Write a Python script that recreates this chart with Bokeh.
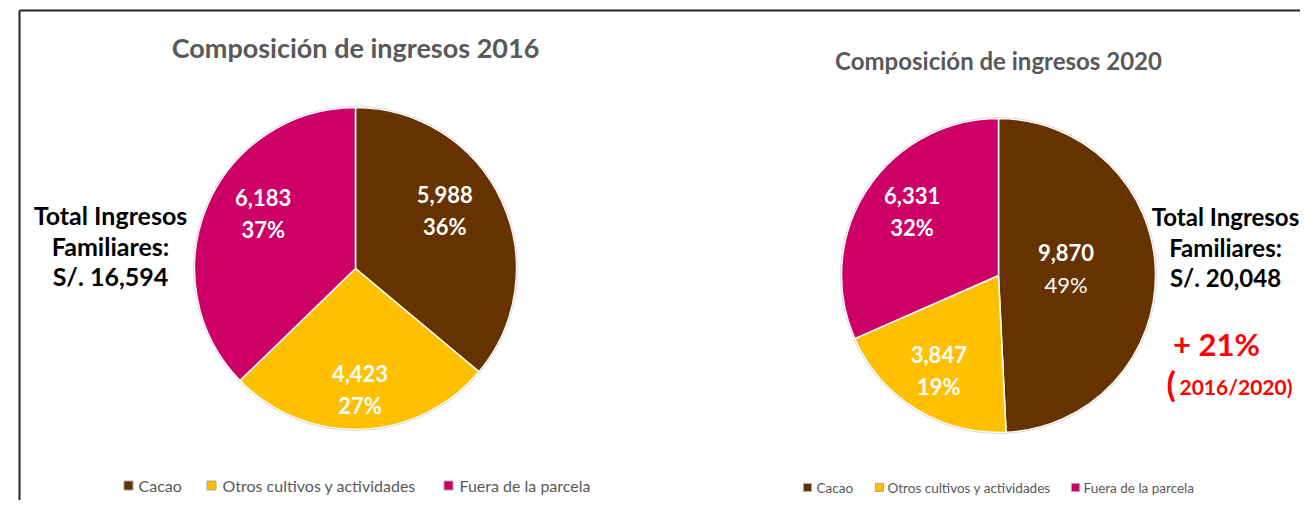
import math
from bokeh.plotting import figure
from bokeh.models import Range1d, ColumnDataSource
from bokeh.core.properties import value
from bokeh.embed import file_html
from bokeh.resources import INLINE

# ---------------- data ----------------
categories = ["Cacao", "Otros cultivos y actividades", "Fuera de la parcela"]
values_2016 = [5988, 4423, 6183]
values_2020 = [9870, 3847, 6331]
years = ["2016", "2020"]
colors = ["#663300", "#FFC000", "#CC0066"]

FONT = "Lato"
GRAY = "#595959"

p = figure(width=1300, height=500, output_backend="svg", toolbar_location=None,
           x_range=Range1d(0, 1300), y_range=Range1d(16, 516), min_border=0)
p.axis.visible = False
p.grid.visible = False
p.outline_line_color = None
p.background_fill_color = "white"

def Y(img_y):
    return 516 - img_y

# frame lines (top and left)
p.segment(x0=[19, 19], y0=[Y(10), Y(10)], x1=[1316, 19], y1=[Y(10), Y(516)],
          line_color="#222222", line_width=2)


def draw_pie(vals, cx, cy, r, label_frac, label_nudge, bold_pct, title, title_y, title_size):
    total = sum(vals)
    fr = [v / total for v in vals]
    cum = [0]
    for f in fr:
        cum.append(cum[-1] + f)
    starts = [math.pi / 2 - 2 * math.pi * c for c in cum[:-1]]
    ends = [math.pi / 2 - 2 * math.pi * c for c in cum[1:]]
    src = ColumnDataSource(dict(x=[cx] * 3, y=[cy] * 3, s=starts, e=ends, c=colors))
    p.wedge(x="x", y="y", radius=r, radius_units="screen", start_angle="s", end_angle="e",
            direction="clock", fill_color="c", line_color="white", line_width=1.5, source=src)
    p.circle(x=[cx], y=[cy], radius=r + 1, radius_units="screen", fill_color=None,
             line_color="#D9D9D9", line_width=1)
    for i, v in enumerate(vals):
        mid = 2 * math.pi * (cum[i] + cum[i + 1]) / 2
        d = r * label_frac[i]
        lx = cx + d * math.sin(mid) + label_nudge[i][0]
        ly = cy + d * math.cos(mid) + label_nudge[i][1]
        pct = f"{round(100 * v / total)}%"
        p.text(x=[lx], y=[ly + 16], text=[f"{v:,}"], text_align="center", text_baseline="middle",
               text_color="white", text_font=value(FONT), text_font_style="bold",
               text_font_size="22px")
        p.text(x=[lx], y=[ly - 16], text=[pct], text_align="center", text_baseline="middle",
               text_color="white", text_font=value(FONT),
               text_font_style="bold" if bold_pct[i] else "normal", text_font_size="22px")
    p.text(x=[cx], y=[title_y], text=[title], text_align="center", text_baseline="middle",
           text_color=GRAY, text_font=value(FONT), text_font_style="bold",
           text_font_size=title_size)
    return total


t16 = draw_pie(values_2016, 355, Y(268), 161, [0.66, 0.76, 0.67],
               [(-7, 13), (0, 1), (7, 13)], [True, True, True],
               f"Composición de ingresos {years[0]}", Y(47), "27px")
t20 = draw_pie(values_2020, 998, Y(275), 157, [0.43, 0.71, 0.68],
               [(0, 5), (-1, 0), (3, 6)], [False, True, True],
               f"Composición de ingresos {years[1]}", Y(60), "24px")

# totals text
for cx, total, ys, fs in [(110, t16, [214, 245, 275], "25px"),
                          (1225, t20, [216, 247, 277], "24px")]:
    lines = ["Total Ingresos", "Familiares:", f"S/. {total:,}"]
    p.text(x=[cx] * 3, y=[Y(v) for v in ys], text=lines, text_align="center",
           text_baseline="middle", text_color="black", text_font=value(FONT),
           text_font_style="bold", text_font_size=fs)

growth = round(100 * (t20 / t16 - 1))
p.text(x=[1216], y=[Y(343)], text=[f"+ {growth}%"], text_align="center", text_baseline="middle",
       text_color="#FF0000", text_font=value(FONT), text_font_style="bold", text_font_size="31px")
p.text(x=[1166], y=[Y(383)], text=["("], text_align="left", text_baseline="middle",
       text_color="#FF0000", text_font=value(FONT), text_font_style="bold", text_font_size="34px")
p.text(x=[1179], y=[Y(386)], text=[f"{years[0]}/{years[1]})"], text_align="left",
       text_baseline="middle", text_color="#FF0000", text_font=value(FONT),
       text_font_style="bold", text_font_size="21px")

# legends
for mx, tx, ly, size, msize in [([128, 211, 448], [138, 222, 459], Y(485), "16px", 9),
                                ([807, 879, 1075], [816, 887, 1083], Y(487), "13.5px", 8)]:
    p.scatter(x=mx, y=[ly] * 3, marker="square", size=msize, fill_color=colors,
              line_color="#A6A6A6", line_width=1)
    p.text(x=tx, y=[ly] * 3, text=categories, text_align="left", text_baseline="middle",
           text_color=GRAY, text_font=value(FONT), text_font_size=size)

open("out.html", "w").write(file_html(p, INLINE))
